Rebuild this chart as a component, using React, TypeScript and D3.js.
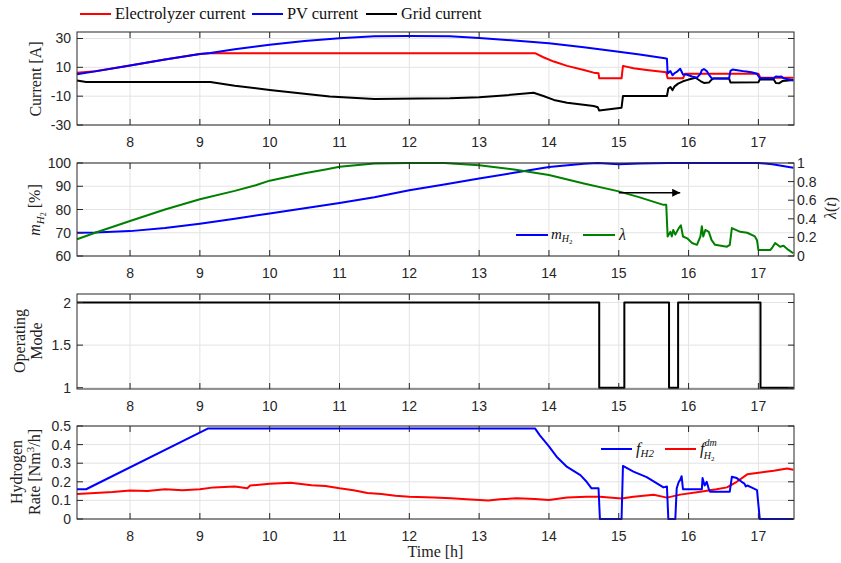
import React from "react";
import * as d3 from "d3";

// ---- data (time in hours) ----
const hourTicks = [8, 9, 10, 11, 12, 13, 14, 15, 16, 17];

const pvTime = [7.24, 7.5, 8.0, 8.5, 9.0, 9.15, 9.5, 10.0, 10.5, 11.0, 11.5, 12.0, 12.58, 13.0, 13.5, 14.0, 14.5, 15.0, 15.3, 15.66, 15.69, 15.7, 15.74, 15.77, 15.8, 15.83, 15.88, 15.92, 15.97, 16.05, 16.12, 16.17, 16.19, 16.22, 16.26, 16.29, 16.33, 16.45, 16.58, 16.6, 16.63, 16.7, 16.8, 16.9, 16.98, 17.02, 17.22, 17.25, 17.3, 17.33, 17.36, 17.5];
const pvCurrent = [5.2, 7.2, 11.2, 15.4, 19.3, 20.0, 22.6, 25.6, 28.2, 30.2, 31.6, 31.8, 31.6, 30.3, 28.6, 26.7, 23.9, 20.8, 18.9, 16.3, 16.0, 5.7, 7.4, 4.5, 6.0, 6.8, 9.0, 5.0, 5.0, 3.6, 2.8, 5.5, 8.0, 8.8, 7.4, 5.0, 2.5, 2.3, 2.3, 7.5, 8.5, 8.0, 7.2, 6.6, 5.5, 2.4, 2.4, 3.6, 3.4, 3.6, 2.4, 0.8];

const elTime = [7.24, 7.5, 8.0, 8.5, 9.0, 9.15, 13.8, 13.92, 14.07, 14.26, 14.5, 14.64, 14.71, 14.72, 15.04, 15.06, 15.21, 15.4, 15.68, 15.7, 15.92, 15.95, 17.0, 17.03, 17.5];
const elCurrent = [6.3, 7.3, 11.2, 15.4, 19.3, 19.8, 19.8, 17.0, 14.0, 11.0, 8.2, 6.3, 5.9, 2.4, 2.4, 11.0, 9.4, 8.2, 6.6, 2.4, 2.4, 5.6, 5.6, 2.7, 2.7];

const gridTime = [7.24, 7.37, 9.15, 9.5, 10.0, 10.43, 10.86, 11.5, 12.15, 12.58, 13.0, 13.4, 13.78, 13.92, 14.07, 14.26, 14.64, 14.7, 14.72, 15.04, 15.06, 15.69, 15.71, 15.74, 15.77, 15.8, 15.85, 15.92, 16.0, 16.1, 16.17, 16.22, 16.29, 16.33, 16.36, 16.58, 16.6, 17.0, 17.02, 17.22, 17.25, 17.3, 17.35, 17.5];
const gridCurrent = [0.8, -0.1, -0.1, -2.7, -5.7, -8.0, -10.3, -11.9, -11.6, -11.4, -10.7, -9.3, -7.6, -9.9, -12.6, -14.5, -16.8, -17.7, -20.0, -18.0, -9.9, -9.9, -4.7, -3.6, -5.8, -3.2, -1.3, 0.3, 1.5, 2.8, 0.5, -0.8, -0.6, 1.5, 2.3, 2.3, -0.5, -0.3, 1.6, 1.6, -0.8, -1.0, 0.6, 1.2];

const mTime = [7.24, 7.5, 8.0, 8.5, 9.0, 9.5, 10.0, 10.5, 11.0, 11.5, 12.0, 12.5, 13.0, 13.5, 14.0, 14.5, 14.7, 15.0, 15.3, 15.7, 16.0, 17.0, 17.2, 17.5];
const mH2 = [70, 70.1, 70.7, 72, 73.9, 76, 78.3, 80.5, 82.8, 85.3, 88.3, 90.8, 93.3, 95.8, 98.3, 99.7, 100, 99.5, 99.8, 100, 100, 100, 99.5, 98];

const lambdaTime = [7.24, 7.5, 8.0, 8.5, 9.0, 9.5, 9.8, 10.0, 10.5, 10.8, 11.0, 11.5, 12.0, 12.5, 13.0, 13.5, 14.0, 14.5, 15.0, 15.3, 15.64, 15.68, 15.7, 15.74, 15.76, 15.78, 15.81, 15.86, 15.89, 15.92, 15.98, 16.05, 16.12, 16.17, 16.19, 16.21, 16.24, 16.29, 16.33, 16.38, 16.55, 16.59, 16.62, 16.74, 16.84, 16.95, 16.98, 17.0, 17.17, 17.19, 17.24, 17.31, 17.36, 17.43, 17.5];
const lambda = [0.18, 0.25, 0.376, 0.5, 0.61, 0.7, 0.76, 0.81, 0.89, 0.93, 0.96, 0.995, 1.0, 1.0, 0.975, 0.93, 0.87, 0.78, 0.695, 0.63, 0.55, 0.55, 0.21, 0.26, 0.21, 0.28, 0.23, 0.3, 0.33, 0.21, 0.19, 0.14, 0.12, 0.21, 0.32, 0.21, 0.28, 0.26, 0.17, 0.12, 0.1, 0.12, 0.3, 0.26, 0.25, 0.21, 0.17, 0.065, 0.065, 0.08, 0.14, 0.1, 0.11, 0.065, 0.03];

const modeTime = [7.24, 14.72, 15.08, 15.72, 15.85, 17.03, 17.5];
const opMode = [2, 1, 2, 1, 2, 1, 1];

const fTime = [7.24, 7.37, 9.12, 13.8, 13.87, 14.0, 14.11, 14.26, 14.45, 14.54, 14.61, 14.71, 14.73, 15.04, 15.06, 15.21, 15.4, 15.64, 15.69, 15.71, 15.81, 15.83, 15.86, 15.88, 15.9, 15.92, 16.19, 16.2, 16.23, 16.26, 16.29, 16.31, 16.59, 16.62, 16.69, 16.76, 16.8, 16.82, 16.84, 16.9, 16.98, 17.02, 17.5];
const fH2 = [0.16, 0.16, 0.487, 0.487, 0.45, 0.39, 0.335, 0.28, 0.236, 0.2, 0.165, 0.165, 0, 0, 0.285, 0.255, 0.225, 0.17, 0.175, 0, 0, 0.165, 0.2, 0.21, 0.23, 0.16, 0.16, 0.22, 0.18, 0.2, 0.16, 0.147, 0.147, 0.227, 0.22, 0.2, 0.19, 0.175, 0.18, 0.17, 0.155, 0, 0];

const dmTime = [7.24, 7.5, 7.75, 8.0, 8.25, 8.5, 8.75, 9.0, 9.2, 9.5, 9.68, 9.72, 10.0, 10.3, 10.6, 10.8, 11.0, 11.2, 11.4, 11.6, 11.8, 12.0, 12.35, 12.6, 12.82, 13.13, 13.3, 13.54, 13.8, 14.0, 14.26, 14.54, 14.73, 15.04, 15.21, 15.5, 15.69, 15.88, 16.17, 16.4, 16.55, 16.69, 16.84, 17.03, 17.22, 17.41, 17.5];
const fDm = [0.134, 0.14, 0.145, 0.153, 0.15, 0.16, 0.155, 0.16, 0.17, 0.175, 0.165, 0.18, 0.19, 0.195, 0.182, 0.178, 0.165, 0.155, 0.14, 0.135, 0.125, 0.12, 0.115, 0.112, 0.106, 0.099, 0.106, 0.111, 0.108, 0.102, 0.115, 0.12, 0.12, 0.11, 0.12, 0.13, 0.115, 0.131, 0.147, 0.16, 0.17, 0.2, 0.24, 0.25, 0.26, 0.272, 0.265];

// ---- layout ----
const L = 77;
const R = 794;
const serif = "'Liberation Serif', 'DejaVu Serif', serif";
const sans = "'Liberation Sans', Arial, sans-serif";
const axisColor = "#262626";
const gridColor = "#e3e3e3";

const x = d3.scaleLinear().domain([7.24, 17.51]).range([L, R]);

const zip = (t: number[], v: number[]) => t.map((d, i) => [d, v[i]] as [number, number]);

function Axes({ y, yTicks, fmt, gridTicks, mirror = true, children }: any) {
  const [bottom, top] = y.range();
  return (
    <g>
      {hourTicks.map((t) => (
        <line key={"gx" + t} x1={x(t)} x2={x(t)} y1={top} y2={bottom} stroke={gridColor} />
      ))}
      {(gridTicks || yTicks).map((v: number) => (
        <line key={"gy" + v} x1={L} x2={R} y1={y(v)} y2={y(v)} stroke={gridColor} />
      ))}
      {children}
      <rect x={L} y={top} width={R - L} height={bottom - top} fill="none" stroke={axisColor} strokeWidth={1} />
      {hourTicks.map((t) => (
        <g key={"tx" + t}>
          <line x1={x(t)} x2={x(t)} y1={bottom} y2={bottom - 6} stroke={axisColor} />
          <line x1={x(t)} x2={x(t)} y1={top} y2={top + 6} stroke={axisColor} />
          <text x={x(t)} y={bottom + 22} textAnchor="middle" fontFamily={sans} fontSize={14} fill={axisColor}>
            {t}
          </text>
        </g>
      ))}
      {yTicks.map((v: number) => (
        <g key={"ty" + v}>
          <line x1={L} x2={L + 6} y1={y(v)} y2={y(v)} stroke={axisColor} />
          {mirror && <line x1={R} x2={R - 6} y1={y(v)} y2={y(v)} stroke={axisColor} />}
          <text x={L - 6} y={y(v) + 5} textAnchor="end" fontFamily={sans} fontSize={14} fill={axisColor}>
            {fmt(v)}
          </text>
        </g>
      ))}
    </g>
  );
}

function Series({ t, v, y, color, curve = d3.curveLinear }: any) {
  const line = d3
    .line<[number, number]>()
    .x((d) => x(d[0]))
    .y((d) => y(d[1]))
    .curve(curve);
  return <path d={line(zip(t, v)) || ""} fill="none" stroke={color} strokeWidth={2} strokeLinejoin="round" />;
}

function LegendItem({ x0, y0, color, children }: any) {
  return (
    <g>
      <line x1={x0} x2={x0 + 31} y1={y0} y2={y0} stroke={color} strokeWidth={2} />
      <text x={x0 + 35} y={y0 + 5} fontFamily={serif} fontSize={16.4} fill="#111">
        {children}
      </text>
    </g>
  );
}

export default function App() {
  const y1 = d3.scaleLinear().domain([-30, 34.5]).range([125, 32]);
  const y2 = d3.scaleLinear().domain([60, 100]).range([256, 163]);
  const y2r = d3.scaleLinear().domain([0, 1]).range([256, 163]);
  const y3 = d3.scaleLinear().domain([0.985, 2.1]).range([389, 294]);
  const y4 = d3.scaleLinear().domain([0, 0.5]).range([519, 426]);

  const lambdaTicks = [0, 0.2, 0.4, 0.6, 0.8, 1];

  return (
    <svg width={841} height={563} style={{ position: "absolute", left: 0, top: 0, background: "#fff" }}>
      <defs>
        <marker id="arr" viewBox="0 0 10 10" refX={10} refY={5} markerWidth={10} markerHeight={8} orient="auto" markerUnits="userSpaceOnUse">
          <path d="M0,0 L10,5 L0,10 z" fill="#000" />
        </marker>
      </defs>

      {/* top legend */}
      <LegendItem x0={80} y0={14} color="#ff0000">Electrolyzer current</LegendItem>
      <LegendItem x0={252} y0={14} color="#0000ff">PV current</LegendItem>
      <LegendItem x0={366} y0={14} color="#000000">Grid current</LegendItem>

      {/* panel 1: currents */}
      <Axes y={y1} yTicks={[-30, -10, 10, 30]} fmt={(v: number) => String(v)}>
        <Series t={elTime} v={elCurrent} y={y1} color="#ff0000" />
        <Series t={gridTime} v={gridCurrent} y={y1} color="#000000" />
        <Series t={pvTime} v={pvCurrent} y={y1} color="#0000ff" />
      </Axes>
      <text transform="translate(41,79) rotate(-90)" textAnchor="middle" fontFamily={serif} fontSize={16} fill="#222">
        Current [A]
      </text>

      {/* panel 2: m_H2 and lambda */}
      <Axes y={y2} yTicks={[60, 70, 80, 90, 100]} fmt={(v: number) => String(v)} mirror={false}>
        <Series t={mTime} v={mH2} y={y2} color="#0000ff" />
        <Series t={lambdaTime} v={lambda} y={y2r} color="#008000" />
      </Axes>
      {lambdaTicks.map((v) => (
        <g key={"rl" + v}>
          <line x1={R} x2={R - 6} y1={y2r(v)} y2={y2r(v)} stroke={axisColor} />
          <text x={R + 3} y={y2r(v) + 5} fontFamily={sans} fontSize={14} fill={axisColor}>
            {String(v)}
          </text>
        </g>
      ))}
      <line x1={x(15.0)} x2={x(15.88)} y1={y2r(0.68)} y2={y2r(0.68)} stroke="#000" strokeWidth={1.5} markerEnd="url(#arr)" />
      <text transform="translate(40,210) rotate(-90)" textAnchor="middle" fontFamily={serif} fontSize={16} fill="#222">
        <tspan fontStyle="italic">m</tspan>
        <tspan fontStyle="italic" fontSize={11} dy={4}>H</tspan>
        <tspan fontSize={8} dy={2}>2</tspan>
        <tspan dy={-6}> [%]</tspan>
      </text>
      <text transform="translate(836,208) rotate(-90)" textAnchor="middle" fontFamily={serif} fontSize={16} fill="#222">
        <tspan fontStyle="italic">λ</tspan>(<tspan fontStyle="italic">t</tspan>)
      </text>
      <line x1={516} x2={548} y1={235} y2={235} stroke="#0000ff" strokeWidth={2} />
      <text x={551} y={239} fontFamily={serif} fontSize={15} fill="#111">
        <tspan fontStyle="italic">m</tspan>
        <tspan fontStyle="italic" fontSize={10} dy={3}>H</tspan>
        <tspan fontSize={7} dy={2}>2</tspan>
      </text>
      <line x1={583} x2={615} y1={235} y2={235} stroke="#008000" strokeWidth={2} />
      <text x={619} y={240} fontFamily={serif} fontSize={16} fontStyle="italic" fill="#111">
        λ
      </text>

      {/* panel 3: operating mode */}
      <Axes y={y3} yTicks={[1, 1.5, 2]} fmt={(v: number) => String(v)}>
        <Series t={modeTime} v={opMode} y={y3} color="#000000" curve={d3.curveStepAfter} />
      </Axes>
      <text transform="translate(25,341) rotate(-90)" textAnchor="middle" fontFamily={serif} fontSize={16} fill="#222">
        Operating
      </text>
      <text transform="translate(42,341) rotate(-90)" textAnchor="middle" fontFamily={serif} fontSize={16} fill="#222">
        Mode
      </text>

      {/* panel 4: hydrogen rate */}
      <Axes y={y4} yTicks={[0, 0.1, 0.2, 0.3, 0.4, 0.5]} fmt={(v: number) => String(v)}>
        <Series t={dmTime} v={fDm} y={y4} color="#ff0000" />
        <Series t={fTime} v={fH2} y={y4} color="#0000ff" />
      </Axes>
      <text transform="translate(22,472) rotate(-90)" textAnchor="middle" fontFamily={serif} fontSize={16} fill="#222">
        Hydrogen
      </text>
      <text transform="translate(40,472) rotate(-90)" textAnchor="middle" fontFamily={serif} fontSize={16} fill="#222">
        Rate [Nm<tspan fontSize={11} dy={-6}>3</tspan>
        <tspan dy={6}>/h]</tspan>
      </text>
      <line x1={601} x2={632} y1={449} y2={449} stroke="#0000ff" strokeWidth={2} />
      <text x={636} y={454} fontFamily={serif} fontSize={16} fill="#111">
        <tspan fontStyle="italic">f</tspan>
        <tspan fontStyle="italic" fontSize={11} dy={3}>H2</tspan>
      </text>
      <line x1={665} x2={696} y1={449} y2={449} stroke="#ff0000" strokeWidth={2} />
      <text x={700} y={454} fontFamily={serif} fontSize={16} fill="#111">
        <tspan fontStyle="italic">f</tspan>
        <tspan fontStyle="italic" fontSize={10} dy={-8}>dm</tspan>
        <tspan fontStyle="italic" fontSize={10} dx={-13} dy={13}>H</tspan>
        <tspan fontSize={7} dy={2}>2</tspan>
      </text>
      <text x={(L + R) / 2} y={557} textAnchor="middle" fontFamily={serif} fontSize={16} fill="#222">
        Time [h]
      </text>
    </svg>
  );
}
